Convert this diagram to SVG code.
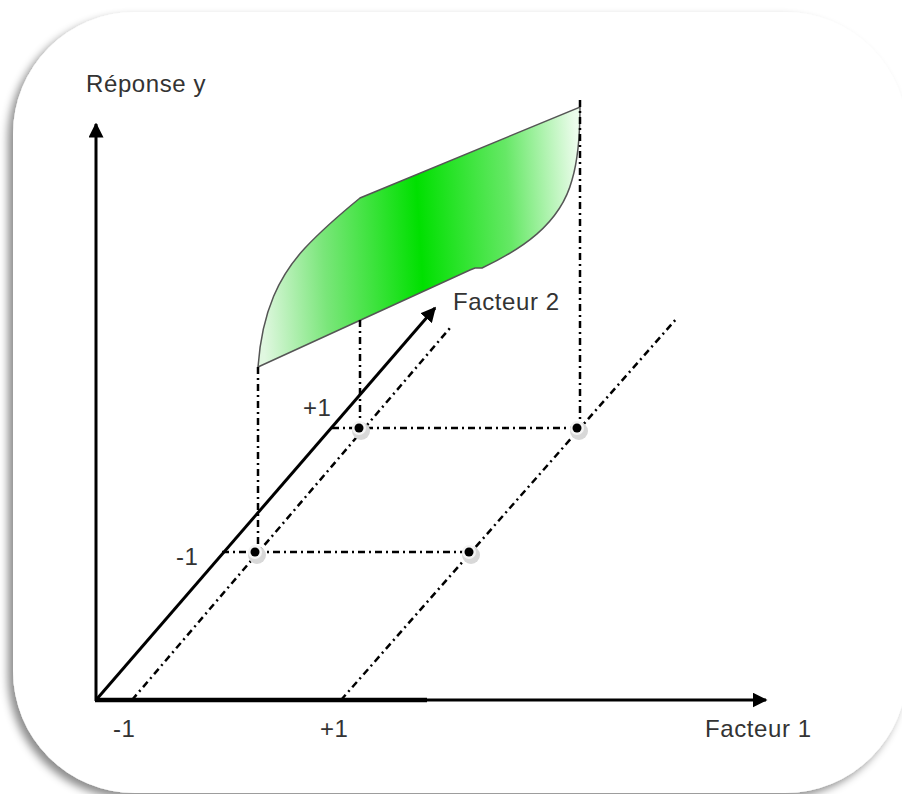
<svg xmlns="http://www.w3.org/2000/svg" width="902" height="794" viewBox="0 0 902 794">
<defs>
  <filter id="shadow" x="-10%" y="-10%" width="120%" height="120%">
    <feGaussianBlur in="SourceAlpha" stdDeviation="4"/>
    <feOffset dx="-5" dy="5" result="b"/>
    <feFlood flood-color="#000" flood-opacity="0.45"/>
    <feComposite in2="b" operator="in"/>
    <feMerge><feMergeNode/><feMergeNode in="SourceGraphic"/></feMerge>
  </filter>
  <linearGradient id="green" gradientUnits="userSpaceOnUse" x1="258" y1="250" x2="582" y2="230">
    <stop offset="0" stop-color="#e0f7e0"/>
    <stop offset="0.2" stop-color="#7ae67a"/>
    <stop offset="0.5" stop-color="#00e000"/>
    <stop offset="0.78" stop-color="#66e866"/>
    <stop offset="1" stop-color="#ecfcec"/>
  </linearGradient>
  <marker id="arrow" viewBox="0 0 10 10" refX="9" refY="5" markerWidth="5" markerHeight="5" orient="auto" markerUnits="strokeWidth">
    <path d="M0,0 L10,5 L0,10 z" fill="#000"/>
  </marker>
  <style>
    .axis{stroke:#000;stroke-width:3;fill:none}
    .dd{stroke:#000;stroke-width:2.5;fill:none;stroke-dasharray:7 4 2 4}
    text{font-family:"Liberation Sans",Arial,sans-serif;font-size:24px;letter-spacing:0.6px;fill:#333}
    .halo{fill:#d8d8d8}
    .ring{fill:#f4f4f4}
    .dot{fill:#000}
  </style>
</defs>

<rect id="frame" x="13" y="12" width="894" height="781" rx="122" ry="122" fill="#fff" filter="url(#shadow)"/>

<g id="surface">
  <path d="M258,367 L470,270 L475,268 L482,268 C520,250 560,225 572,180 C578,160 580,135 580,107 L360,198 C338,216 320,232 305,248 C280,275 262,310 258,367 Z" fill="url(#green)" stroke="#555" stroke-width="1.5"/>
</g>

<g id="connectors">
  <line class="axis" x1="96" y1="701" x2="96" y2="124" marker-end="url(#arrow)"/>
  <line class="axis" x1="95" y1="700" x2="766" y2="700" marker-end="url(#arrow)"/>
  <line x1="95" y1="700" x2="427" y2="700" stroke="#000" stroke-width="4.5"/>
  <line class="axis" x1="96" y1="700" x2="435" y2="308" stroke-width="2.5" marker-end="url(#arrow)"/>
  <line class="dd" x1="132" y1="700" x2="450" y2="328"/>
  <line class="dd" x1="341" y1="700" x2="677" y2="318"/>
  <line class="dd" x1="222" y1="552" x2="469" y2="552"/>
  <line class="dd" x1="332" y1="428" x2="577" y2="428"/>
  <line class="dd" x1="258" y1="367" x2="258" y2="552"/>
  <line class="dd" x1="360" y1="320" x2="360" y2="428"/>
  <line class="dd" x1="580" y1="100" x2="580" y2="428"/>
</g>

<g id="p-mm"><circle class="halo" cx="257" cy="555" r="9"/><circle class="ring" cx="255" cy="552" r="7"/><circle class="dot" cx="255" cy="552" r="4.5"/></g>
<g id="p-pm"><circle class="halo" cx="471" cy="555" r="9"/><circle class="ring" cx="469" cy="552" r="7"/><circle class="dot" cx="469" cy="552" r="4.5"/></g>
<g id="p-mp"><circle class="halo" cx="361" cy="431" r="9"/><circle class="ring" cx="359" cy="428" r="7"/><circle class="dot" cx="359" cy="428" r="4.5"/></g>
<g id="p-pp"><circle class="halo" cx="579" cy="431" r="9"/><circle class="ring" cx="577" cy="428" r="7"/><circle class="dot" cx="577" cy="428" r="4.5"/></g>

<g id="labels">
  <text x="86" y="92">Réponse y</text>
  <text x="453" y="310">Facteur 2</text>
  <text x="705" y="737">Facteur 1</text>
  <text x="303" y="416">+1</text>
  <text x="176" y="565">-1</text>
  <text x="113" y="737">-1</text>
  <text x="320" y="737">+1</text>
</g>
</svg>
